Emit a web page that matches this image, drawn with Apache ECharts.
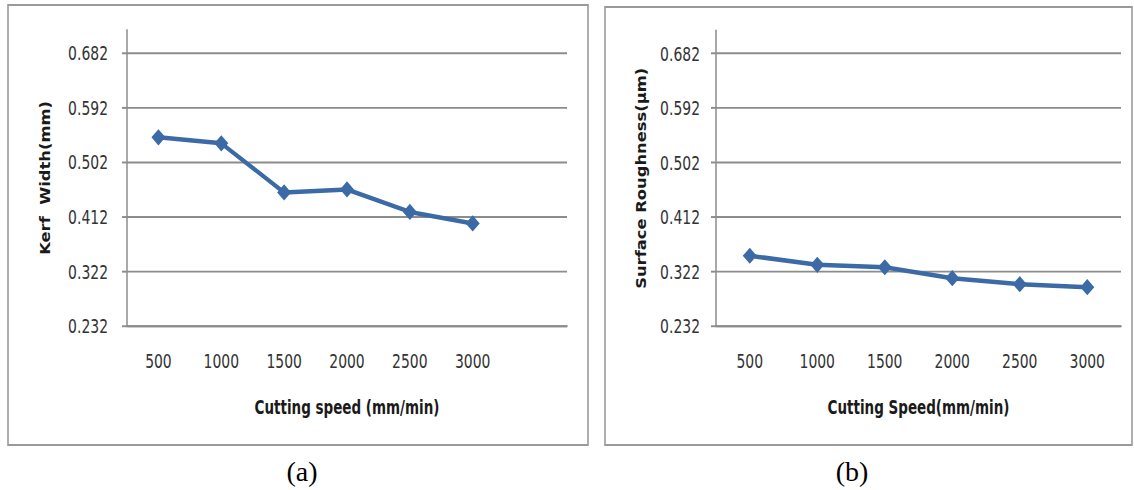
<!DOCTYPE html>
<html>
<head>
<meta charset="utf-8">
<title>Kerf width and surface roughness vs cutting speed</title>
<script src="https://cdn.jsdelivr.net/npm/echarts@6/dist/echarts.min.js"></script>
<style>
  html, body { margin: 0; padding: 0; background: #ffffff; overflow: hidden; }
  #frame { width: 1134px; height: 490px; position: relative; overflow: hidden; }
  /* the figure is laid out in a shorter box and stretched vertically to full height */
  #chart { width: 1134px; height: 377px; transform: scaleY(1.2997347); transform-origin: 0 0; }
</style>
</head>
<body>
<div id="frame"><div id="chart"></div></div>
<script>
// Cutting speed categories (mm/min)
const speeds = ['500', '1000', '1500', '2000', '2500', '3000'];
// Kerf width (mm) per cutting speed
const kerfWidth = [0.543, 0.533, 0.452, 0.457, 0.420, 0.401];
// Surface roughness (µm) per cutting speed
const surfaceRoughness = [0.348, 0.333, 0.329, 0.311, 0.301, 0.296];
// Value-axis tick labels shared by both panels
const yTicks = [0.232, 0.322, 0.412, 0.502, 0.592, 0.682];
const yTop = 0.72;

const STRETCH = 490 / 377;
const LABEL_FONT = "'DejaVu Sans Condensed', 'Liberation Sans', sans-serif";
const SERIF_FONT = "'Liberation Serif', 'DejaVu Serif', serif";
const GRID_GRAY = '#8c8c8c';
const LINE_BLUE = '#3b6aa6';

const yStep = +(yTicks[1] - yTicks[0]).toFixed(3);

function valueAxis(gridIndex, name, nameGap, labelMargin) {
  return {
    type: 'value',
    gridIndex: gridIndex,
    min: yTicks[0],
    max: yTop,
    interval: yStep,
    name: name,
    nameLocation: 'middle',
    nameRotate: 90,
    nameGap: nameGap,
    nameTextStyle: { fontFamily: LABEL_FONT, fontWeight: 'bold', fontSize: 14, color: '#1a1a1a' },
    axisLine: { show: true, lineStyle: { color: GRID_GRAY, width: 1.5 } },
    axisTick: { show: true, length: 5, lineStyle: { color: GRID_GRAY, width: 1.5 } },
    axisLabel: {
      margin: labelMargin,
      showMaxLabel: false,
      fontFamily: LABEL_FONT,
      fontSize: 15.5,
      color: '#333333',
      formatter: function (v) { return v.toFixed(3); }
    },
    splitLine: { show: true, showMaxLine: false, lineStyle: { color: GRID_GRAY, width: 1.5 } }
  };
}

function categoryAxis(gridIndex, cats, name) {
  return {
    type: 'category',
    gridIndex: gridIndex,
    data: cats,
    boundaryGap: true,
    name: name,
    nameLocation: 'middle',
    nameGap: 55,
    nameTextStyle: { fontFamily: LABEL_FONT, fontWeight: 'bold', fontSize: 15, color: '#1a1a1a' },
    axisLine: { show: true, lineStyle: { color: GRID_GRAY, width: 1.5 } },
    axisTick: { show: false },
    axisLabel: { margin: 19, fontFamily: LABEL_FONT, fontSize: 15.5, color: '#333333', interval: 0 },
    splitLine: { show: false }
  };
}

function lineSeries(axisIndex, values) {
  return {
    type: 'line',
    xAxisIndex: axisIndex,
    yAxisIndex: axisIndex,
    data: values,
    symbol: 'diamond',
    symbolSize: [14, 12.5],
    showAllSymbol: true,
    lineStyle: { color: LINE_BLUE, width: 3.5 },
    itemStyle: { color: LINE_BLUE },
    emphasis: { disabled: true },
    animation: false
  };
}

function caption(text, x, y) {
  return {
    type: 'text',
    x: x, y: y,
    scaleY: 1 / STRETCH,
    style: { text: text, font: '28px ' + SERIF_FONT, fill: '#000000', align: 'center', verticalAlign: 'middle' },
    silent: true
  };
}

const chart = echarts.init(document.getElementById('chart'), null, { renderer: 'svg' });

chart.setOption({
  backgroundColor: '#ffffff',
  animation: false,
  grid: [
    { left: 127, right: 567, top: 23, bottom: 126.2, containLabel: false },
    { left: 716, right: 13, top: 23.5, bottom: 126.2, containLabel: false }
  ],
  // left panel keeps one empty slot after the last speed
  xAxis: [
    categoryAxis(0, speeds.concat(['']), 'Cutting speed (mm/min)'),
    categoryAxis(1, speeds, 'Cutting Speed(mm/min)')
  ],
  yAxis: [
    valueAxis(0, 'Kerf  Width(mm)', 75, 19),
    valueAxis(1, 'Surface Roughness(\u00b5m)', 68, 16)
  ],
  series: [
    lineSeries(0, kerfWidth),
    lineSeries(1, surfaceRoughness)
  ],
  graphic: [
    {
      type: 'rect',
      shape: { x: 8, y: 3.85, width: 580, height: 338.5 },
      style: { fill: 'none', stroke: '#9a9a9a', lineWidth: 1.6 },
      silent: true, z: -1
    },
    {
      type: 'rect',
      shape: { x: 605, y: 5.4, width: 527, height: 337 },
      style: { fill: 'none', stroke: '#9a9a9a', lineWidth: 1.6 },
      silent: true, z: -1
    },
    caption('(a)', 302, 362.4),
    caption('(b)', 852, 362.4)
  ]
});
</script>
</body>
</html>
